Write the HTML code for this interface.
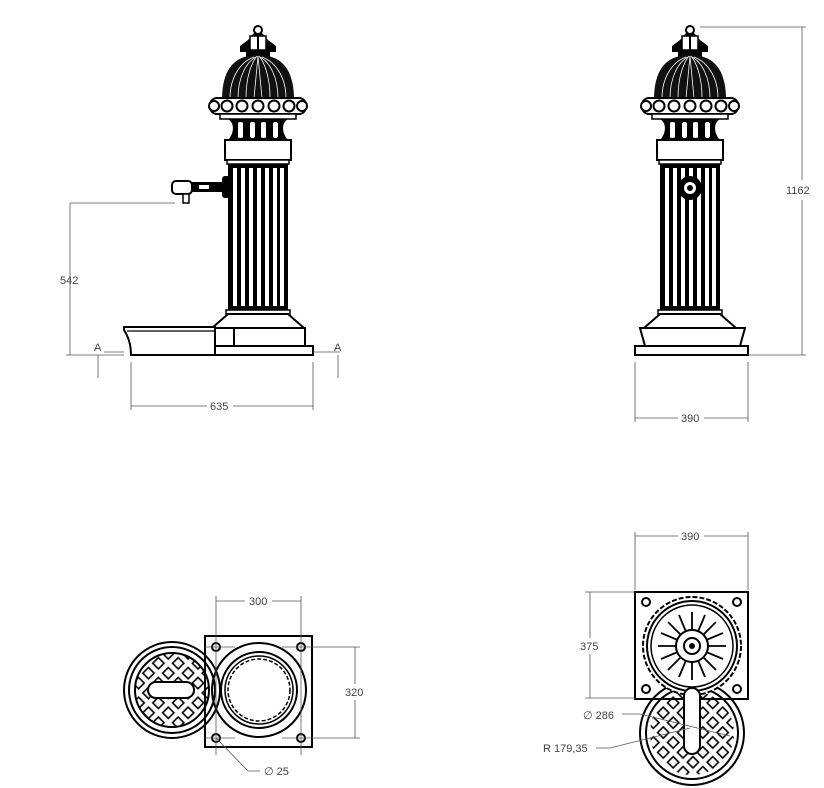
<!DOCTYPE html>
<html><head><meta charset="utf-8"><style>
html,body{margin:0;padding:0;background:#fff;}
svg{display:block;font-family:"Liberation Sans",sans-serif;}
</style></head><body>
<svg width="824" height="788" viewBox="0 0 824 788" xmlns="http://www.w3.org/2000/svg">
<defs>
<pattern id="dia" width="14" height="14" patternUnits="userSpaceOnUse" patternTransform="rotate(45)">
<rect x="3" y="3" width="8" height="8" fill="#fff" stroke="#000" stroke-width="1.6"/>
</pattern>
<clipPath id="cL"><circle cx="172" cy="690" r="37"/></clipPath>
<clipPath id="cR"><circle cx="692" cy="733" r="42"/></clipPath>
<g id="top">
  <!-- finial -->
  <circle cx="0" cy="-160" r="4" fill="#fff" stroke="#000" stroke-width="2"/>
  <path d="M-4,-157 L4,-157 L10,-150 L18,-144 L18,-138 L-18,-138 L-18,-144 L-10,-150 Z" fill="#000"/>
  <rect x="-8" y="-154" width="16" height="14" fill="#fff" stroke="#000" stroke-width="1.5"/>
  <line x1="0" y1="-154" x2="0" y2="-140" stroke="#000" stroke-width="2"/>
  <rect x="-12" y="-138" width="24" height="5" fill="#000"/>
  <!-- dome -->
  <path d="M-36,-90 C-36,-125 -20,-135 0,-135 C20,-135 36,-125 36,-90 Z" fill="#111"/>
  <g stroke="#fff" stroke-width="0.8" fill="none">
    <path d="M-28,-92 C-28,-112 -18,-128 -4,-133"/><path d="M-20,-92 C-20,-112 -12,-128 -2,-133"/>
    <path d="M-12,-92 C-12,-114 -6,-128 -1,-134"/><path d="M-4,-92 L0,-134"/><path d="M4,-92 L0,-134"/>
    <path d="M12,-92 C12,-114 6,-128 1,-134"/><path d="M20,-92 C20,-112 12,-128 2,-133"/><path d="M28,-92 C28,-112 18,-128 4,-133"/>
  </g>
  <!-- bead ring -->
  <rect x="-48" y="-92" width="96" height="16" rx="7" fill="#fff" stroke="#000" stroke-width="2"/>
  <g fill="#fff" stroke="#000" stroke-width="2">
    <circle cx="-44" cy="-84" r="5"/><circle cx="-31" cy="-84" r="5.5"/><circle cx="-16" cy="-84" r="5.5"/>
    <circle cx="0" cy="-84" r="5.5"/><circle cx="16" cy="-84" r="5.5"/><circle cx="31" cy="-84" r="5.5"/><circle cx="44" cy="-84" r="5"/>
  </g>
  <rect x="-38" y="-76" width="76" height="5" fill="#fff" stroke="#000" stroke-width="1.5"/>
  <!-- capital -->
  <path d="M-30,-71 C-22,-66 -25,-55 -30,-50 L30,-50 C25,-55 22,-66 30,-71 Z" fill="#000"/>
  <g fill="#fff"><rect x="-20" y="-68" width="5" height="16" rx="2"/><rect x="-8" y="-68" width="5" height="16" rx="2"/><rect x="3" y="-68" width="5" height="16" rx="2"/><rect x="15" y="-68" width="5" height="16" rx="2"/></g>
  <rect x="-33" y="-50" width="66" height="20" fill="#fff" stroke="#000" stroke-width="2"/>
  <rect x="-31" y="-30" width="62" height="4" fill="#fff" stroke="#000" stroke-width="1.5"/>
  <!-- column -->
  <rect x="-30" y="-26" width="60" height="146" fill="#000"/>
  <g fill="#fff">
    <rect x="-25" y="-22" width="4" height="138"/><rect x="-17" y="-22" width="4" height="138"/><rect x="-9" y="-22" width="4" height="138"/>
    <rect x="-1" y="-22" width="4" height="138"/><rect x="7" y="-22" width="4" height="138"/><rect x="15" y="-22" width="4" height="138"/><rect x="22" y="-22" width="4" height="138"/>
  </g>
  <!-- base -->
  <rect x="-32" y="120" width="64" height="4" fill="#fff" stroke="#000" stroke-width="1.5"/>
  <path d="M-30,124 L30,124 L46,138 L-46,138 Z" fill="#fff" stroke="#000" stroke-width="2"/>
</g>
</defs>

<!-- LEFT ELEVATION -->
<use href="#top" x="258" y="190"/>
<rect x="213" y="328" width="92" height="18" fill="#fff" stroke="#000" stroke-width="2"/>
<line x1="234" y1="328" x2="234" y2="346" stroke="#000" stroke-width="2"/>
<rect x="205" y="346" width="108" height="9" fill="#fff" stroke="#000" stroke-width="2"/>
<path d="M124,327 L215,327 L215,355 L131,355 C131,345 128,336 124,330 Z" fill="#fff" stroke="#000" stroke-width="2"/>
<line x1="127" y1="331" x2="215" y2="331" stroke="#000" stroke-width="1.2"/>
<!-- spout -->
<rect x="172" y="181" width="20" height="13" rx="4" fill="#fff" stroke="#000" stroke-width="2"/>
<rect x="192" y="182" width="30" height="10" fill="#000"/>
<rect x="199" y="185" width="10" height="4" fill="#fff"/>
<rect x="222" y="176" width="8" height="22" rx="3" fill="#000"/>
<rect x="183" y="194" width="6" height="9" fill="#fff" stroke="#000" stroke-width="1.5"/>

<g stroke="#555" stroke-width="0.8" fill="none">
  <line x1="70" y1="203" x2="175" y2="203"/>
  <line x1="70" y1="203" x2="70" y2="355"/>
  <line x1="66" y1="355" x2="124" y2="355"/>
  <line x1="104" y1="352" x2="124" y2="352"/>
  <line x1="98" y1="355" x2="98" y2="378"/>
  <line x1="313" y1="352" x2="340" y2="352"/>
  <line x1="338" y1="355" x2="338" y2="378"/>
  <line x1="131" y1="362" x2="131" y2="410"/>
  <line x1="313" y1="362" x2="313" y2="410"/>
  <line x1="131" y1="406" x2="207" y2="406"/>
  <line x1="233" y1="406" x2="313" y2="406"/>
</g>
<g font-size="11" fill="#444">
  <text x="60" y="284">542</text>
  <text x="94" y="351">A</text>
  <text x="334" y="351">A</text>
  <text x="210" y="410">635</text>
</g>

<!-- RIGHT ELEVATION -->
<use href="#top" x="690" y="190"/>
<circle cx="690" cy="188" r="12" fill="#000"/>
<circle cx="690" cy="188" r="6" fill="#fff"/>
<circle cx="690" cy="188" r="3" fill="#000"/>
<path d="M640,328 L745,328 L740,346 L645,346 Z" fill="#fff" stroke="#000" stroke-width="2"/>
<rect x="635" y="346" width="113" height="9" fill="#fff" stroke="#000" stroke-width="2"/>
<g stroke="#555" stroke-width="0.8" fill="none">
  <line x1="700" y1="27" x2="806" y2="27"/>
  <line x1="748" y1="355" x2="806" y2="355"/>
  <line x1="802" y1="27" x2="802" y2="180"/>
  <line x1="802" y1="200" x2="802" y2="355"/>
  <line x1="635" y1="362" x2="635" y2="422"/>
  <line x1="748" y1="362" x2="748" y2="422"/>
  <line x1="635" y1="418" x2="678" y2="418"/>
  <line x1="704" y1="418" x2="748" y2="418"/>
</g>
<g font-size="11" fill="#444">
  <text x="786" y="194">1162</text>
  <text x="681" y="422">390</text>
</g>

<!-- BOTTOM LEFT PLAN -->
<rect x="205" y="636" width="107" height="111" fill="#fff" stroke="#000" stroke-width="2"/>
<circle cx="172" cy="690" r="48" fill="#fff" stroke="#000" stroke-width="2"/>
<circle cx="172" cy="690" r="43" fill="none" stroke="#000" stroke-width="2"/>
<rect x="130" y="650" width="84" height="84" fill="url(#dia)" clip-path="url(#cL)"/>
<circle cx="172" cy="690" r="37" fill="none" stroke="#000" stroke-width="2"/>
<rect x="148" y="682" width="46" height="16" rx="8" fill="#fff" stroke="#000" stroke-width="2"/>
<path d="M205,636 L205,747" stroke="#000" stroke-width="2"/>
<circle cx="259" cy="690" r="47" fill="none" stroke="#000" stroke-width="2"/>
<circle cx="259" cy="690" r="38" fill="none" stroke="#000" stroke-width="2"/>
<circle cx="259" cy="690" r="34" fill="none" stroke="#000" stroke-width="1.5"/>
<circle cx="259" cy="690" r="31" fill="none" stroke="#000" stroke-width="1.5" stroke-dasharray="4 2"/>
<g fill="#fff" stroke="#000" stroke-width="2">
  <circle cx="216" cy="647" r="4"/><circle cx="301" cy="647" r="4"/><circle cx="216" cy="738" r="4"/><circle cx="301" cy="738" r="4"/>
</g>
<g stroke="#555" stroke-width="0.8" fill="none">
  <line x1="216" y1="596" x2="216" y2="755"/>
  <line x1="301" y1="596" x2="301" y2="755"/>
  <line x1="205" y1="647" x2="235" y2="647"/><line x1="282" y1="647" x2="360" y2="647"/>
  <line x1="205" y1="738" x2="235" y2="738"/><line x1="282" y1="738" x2="360" y2="738"/>
  <line x1="216" y1="601" x2="245" y2="601"/><line x1="272" y1="601" x2="301" y2="601"/>
  <line x1="355" y1="647" x2="355" y2="684"/><line x1="355" y1="700" x2="355" y2="738"/>
  <polyline points="216,738 248,771 260,771"/>
</g>
<g font-size="11" fill="#444">
  <text x="249" y="605">300</text>
  <text x="345" y="696">320</text>
  <text x="264" y="775">∅ 25</text>
</g>

<!-- BOTTOM RIGHT PLAN -->
<rect x="635" y="592" width="113" height="107" fill="#fff" stroke="#000" stroke-width="2"/>
<circle cx="692" cy="733" r="52" fill="#fff" stroke="#000" stroke-width="2"/>
<circle cx="692" cy="733" r="46" fill="none" stroke="#000" stroke-width="2"/>
<rect x="650" y="690" width="84" height="90" fill="url(#dia)" clip-path="url(#cR)"/>
<line x1="635" y1="699" x2="748" y2="699" stroke="#000" stroke-width="2"/>
<circle cx="692" cy="646" r="49" fill="#fff" stroke="#000" stroke-width="2" stroke-dasharray="5 2"/>
<circle cx="692" cy="646" r="45" fill="none" stroke="#000" stroke-width="2"/>
<circle cx="692" cy="646" r="41" fill="none" stroke="#000" stroke-width="1.5"/>
<g stroke="#000" stroke-width="1.8">
  <line x1="692" y1="612" x2="692" y2="680"/><line x1="658" y1="646" x2="726" y2="646"/>
  <line x1="668" y1="622" x2="716" y2="670"/><line x1="716" y1="622" x2="668" y2="670"/>
  <line x1="679" y1="615" x2="705" y2="677"/><line x1="705" y1="615" x2="679" y2="677"/>
  <line x1="661" y1="633" x2="723" y2="659"/><line x1="661" y1="659" x2="723" y2="633"/>
</g>
<circle cx="692" cy="646" r="16" fill="#fff" stroke="#000" stroke-width="2"/>
<circle cx="692" cy="646" r="8" fill="#fff" stroke="#000" stroke-width="2"/>
<circle cx="692" cy="646" r="3" fill="#000"/>
<rect x="684" y="688" width="16" height="66" rx="8" fill="#fff" stroke="#000" stroke-width="2"/>
<g fill="#fff" stroke="#000" stroke-width="2">
  <circle cx="646" cy="602" r="4"/><circle cx="737" cy="602" r="4"/><circle cx="646" cy="689" r="4"/><circle cx="737" cy="689" r="4"/>
</g>
<g stroke="#555" stroke-width="0.8" fill="none">
  <line x1="635" y1="532" x2="635" y2="590"/><line x1="748" y1="532" x2="748" y2="590"/>
  <line x1="635" y1="536" x2="678" y2="536"/><line x1="704" y1="536" x2="748" y2="536"/>
  <line x1="585" y1="592" x2="635" y2="592"/><line x1="585" y1="698" x2="635" y2="698"/>
  <line x1="590" y1="592" x2="590" y2="638"/><line x1="590" y1="654" x2="590" y2="698"/>
  <polyline points="622,714 640,714 730,736"/>
  <polyline points="596,748 610,748 690,728"/>
</g>
<g font-size="11" fill="#444">
  <text x="681" y="540">390</text>
  <text x="580" y="650">375</text>
  <text x="583" y="719">∅ 286</text>
  <text x="543" y="752">R 179,35</text>
</g>
</svg>
</body></html>
